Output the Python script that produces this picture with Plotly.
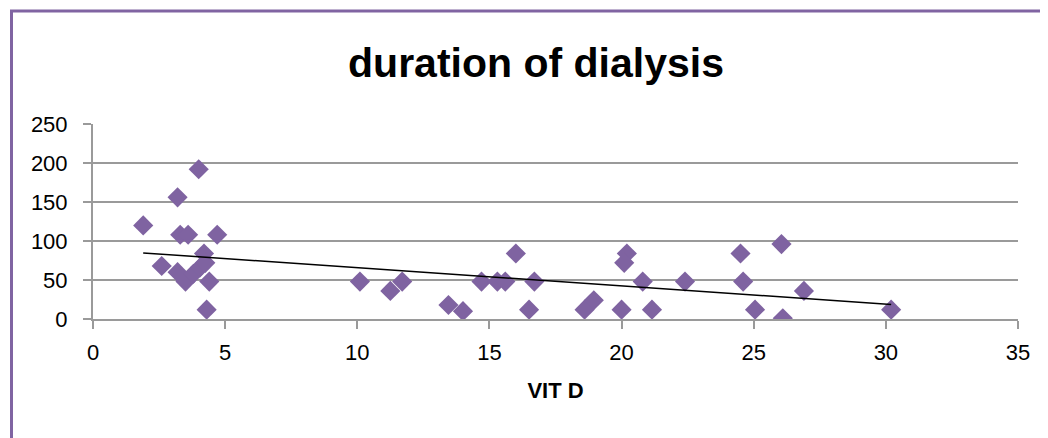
import numpy as np
import plotly.graph_objects as go

vit_d = [1.9, 4.0, 3.2, 3.3, 3.6, 4.7, 2.6, 3.2, 3.5, 3.8, 4.05, 4.2, 4.25, 4.4, 4.3,
         10.1, 11.25, 11.7, 13.45, 14.0, 14.7, 15.3, 15.6, 16.0, 16.7, 16.5,
         18.6, 18.95, 20.0, 20.2, 20.1, 20.8, 21.15, 22.4, 24.5, 24.6, 25.05,
         26.05, 26.1, 26.9, 30.2]
duration = [120, 192, 156, 108, 108, 108, 68, 60, 48, 58, 66, 84, 72, 48, 12,
            48, 36, 48, 18, 10, 48, 48, 48, 84, 48, 12,
            12, 24, 12, 84, 72, 48, 12, 48, 84, 48, 12,
            96, 1, 36, 12]

x_ticks = [0, 5, 10, 15, 20, 25, 30, 35]
y_ticks = [0, 50, 100, 150, 200, 250]

slope, intercept = np.polyfit(vit_d, duration, 1)
tx = np.array([min(vit_d), max(vit_d)])
ty = slope * tx + intercept

purple = "#8064A2"
gray = "#9a9a9a"
font = "Liberation Sans"

fig = go.Figure()
fig.add_trace(go.Scatter(x=vit_d, y=duration, mode="markers",
                         marker=dict(symbol="diamond", size=15.5, color="#7F63A1",
                                     line=dict(width=0)),
                         showlegend=False, hoverinfo="x+y"))
fig.add_trace(go.Scatter(x=tx, y=ty, mode="lines",
                         line=dict(color="black", width=1.5),
                         showlegend=False, hoverinfo="skip"))

# page body has an 8px margin, so the figure is drawn in a 1040x430 box
W, H = 1040, 430
L, T = 85, 116
R = W - 1010
B = H - 311
pw, ph = W - L - R, H - T - B

def px(x):
    return (x - L) / pw

def py(y):
    return (H - B - y) / ph

fig.add_shape(type="line", xref="paper", yref="paper",
              x0=px(3.5), x1=px(3.5), y0=py(H + 5), y1=py(3),
              line=dict(color=purple, width=3))
fig.add_shape(type="line", xref="paper", yref="paper",
              x0=px(2), x1=px(W + 5), y0=py(3), y1=py(3),
              line=dict(color=purple, width=3))

fig.update_layout(
    width=W, height=H,
    margin=dict(l=L, r=R, t=T, b=B),
    paper_bgcolor="white", plot_bgcolor="white",
    font=dict(family=font, color="black", size=22),
    title=dict(text="<b>duration of dialysis</b>", x=(536 - 8) / W, xanchor="center",
               y=1 - 55 / H, yanchor="middle", yref="container",
               font=dict(family=font, size=41, color="black")),
    xaxis=dict(range=[0, 35], tickvals=x_ticks, showgrid=False, zeroline=False,
               showline=True, linecolor=gray, linewidth=2,
               ticks="outside", ticklen=8, tickcolor=gray, tickwidth=2,
               ticklabelstandoff=5,
               title=dict(text="<b>VIT D</b>", font=dict(size=22), standoff=18)),
    yaxis=dict(range=[0, 250], tickvals=y_ticks, showgrid=True, gridcolor=gray,
               gridwidth=1.5, zeroline=False,
               showline=True, linecolor=gray, linewidth=2,
               ticks="outside", ticklen=8, tickcolor=gray, tickwidth=2,
               ticklabelstandoff=11),
)

fig.write_html("out.html")
